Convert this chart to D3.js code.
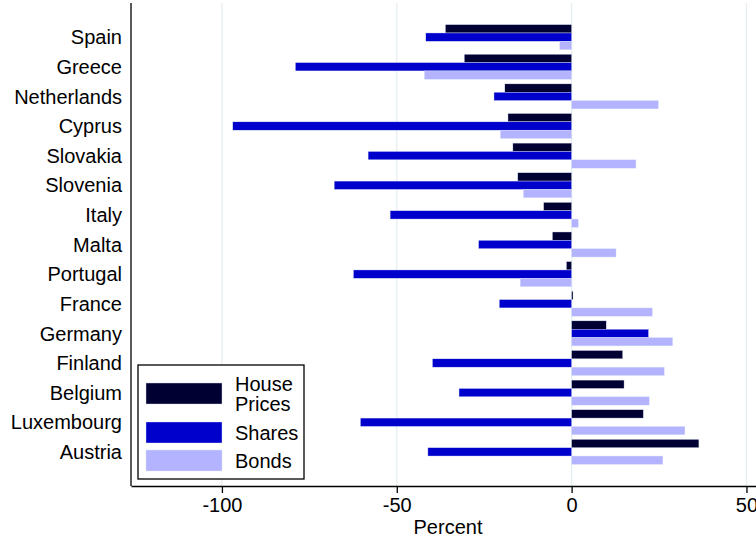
<!DOCTYPE html>
<html>
<head>
<meta charset="utf-8">
<script src="https://cdn.jsdelivr.net/npm/d3@7"></script>
<style>
  body { margin: 0; background: #fff; }
  svg { font-family: "Liberation Sans", Arial, sans-serif; display: block; }
</style>
</head>
<body>
<div id="chart"></div>
<script>
// data (percent change)
const countries = ["Spain", "Greece", "Netherlands", "Cyprus", "Slovakia", "Slovenia", "Italy", "Malta",
    "Portugal", "France", "Germany", "Finland", "Belgium", "Luxembourg", "Austria"];
const housePrices = [-36.1, -30.7, -19.1, -18.2, -16.8, -15.4, -8.0, -5.5, -1.5, 0.4, 9.9, 14.6, 15.0, 20.5, 36.4];
const shares = [-41.7, -79.0, -22.2, -96.9, -58.2, -67.9, -51.9, -26.6, -62.4, -20.7, 22.0, -39.8, -32.2, -60.4, -41.1];
const bonds = [-3.4, -42.1, 24.8, -20.4, 18.4, -13.8, 1.9, 12.7, -14.7, 23.1, 28.9, 26.5, 22.2, 32.4, 26.1];
const xTicks = [-100, -50, 0, 50];

const seriesNames = ["House\nPrices", "Shares", "Bonds"];
const seriesColors = ["#000033", "#0000cc", "#b3b3ff"];
const seriesValues = [housePrices, shares, bonds];

const width = 756, height = 542;
const plot = {left: 131, right: 765, top: 3, bottom: 486};

const svg = d3.select("#chart").append("svg")
    .attr("width", width)
    .attr("height", height);

const x = d3.scaleLinear().domain([-126, 55.3]).range([plot.left, plot.right]);

const y = d3.scaleBand()
    .domain(countries)
    .range([plot.top, plot.bottom])
    .paddingInner(0.155)
    .paddingOuter(0.73);

const ySub = d3.scaleBand()
    .domain(d3.range(seriesValues.length))
    .range([0, y.bandwidth()]);

// gridlines
svg.append("g")
    .selectAll("line")
    .data(xTicks)
    .join("line")
    .attr("x1", d => x(d)).attr("x2", d => x(d))
    .attr("y1", plot.top).attr("y2", plot.bottom)
    .attr("stroke", "#e6eef2")
    .attr("stroke-width", 1.3);

// bars
const rows = [];
countries.forEach((c, i) => {
    seriesValues.forEach((vals, s) => rows.push({country: c, s: s, v: vals[i]}));
});

svg.append("g")
    .selectAll("rect")
    .data(rows)
    .join("rect")
    .attr("x", d => x(Math.min(0, d.v)))
    .attr("width", d => Math.abs(x(d.v) - x(0)))
    .attr("y", d => y(d.country) + ySub(d.s))
    .attr("height", ySub.bandwidth())
    .attr("fill", d => seriesColors[d.s])
    .attr("stroke", "#dde3f5")
    .attr("stroke-width", 0.4);

// country labels
svg.append("g")
    .selectAll("text")
    .data(countries)
    .join("text")
    .attr("x", plot.left - 9)
    .attr("y", d => y(d) + y.bandwidth() / 2)
    .attr("dy", "0.36em")
    .attr("text-anchor", "end")
    .attr("font-size", 20)
    .text(d => d);

// y axis line
svg.append("line")
    .attr("x1", plot.left).attr("x2", plot.left)
    .attr("y1", plot.top).attr("y2", plot.bottom)
    .attr("stroke", "#000")
    .attr("stroke-width", 1.3);

// x axis (plain hyphen for negatives, as in the original)
const xAxis = svg.append("g")
    .attr("transform", `translate(0,${plot.bottom})`)
    .call(d3.axisBottom(x).tickValues(xTicks).tickSize(7).tickSizeOuter(0).tickPadding(5)
        .tickFormat(d => String(d)));
xAxis.select(".domain").attr("stroke-width", 1.3);
xAxis.selectAll(".tick line").attr("stroke-width", 1.3);
xAxis.selectAll("text")
    .attr("font-size", 20)
    .attr("font-family", "Liberation Sans, Arial, sans-serif")
    .attr("fill", "#000");

svg.append("text")
    .attr("x", (plot.left + plot.right) / 2)
    .attr("y", 534)
    .attr("text-anchor", "middle")
    .attr("font-size", 20)
    .text("Percent");

// legend
const legend = svg.append("g");
legend.append("rect")
    .attr("x", 138).attr("y", 365)
    .attr("width", 166).attr("height", 114)
    .attr("fill", "#fff")
    .attr("stroke", "#000")
    .attr("stroke-width", 1.3);

const legendY = [383, 422, 450];
seriesNames.forEach((name, i) => {
    legend.append("rect")
        .attr("x", 146).attr("y", legendY[i])
        .attr("width", 76).attr("height", 21)
        .attr("fill", seriesColors[i])
        .attr("stroke", "#dde3f5")
        .attr("stroke-width", 0.4);
    const lines = name.split("\n");
    const t = legend.append("text")
        .attr("x", 235)
        .attr("font-size", 20);
    const top = lines.length > 1 ? 390.5 : legendY[i] + 18;
    lines.forEach((ln, j) => {
        t.append("tspan")
            .attr("x", 235)
            .attr("y", top + j * 20)
            .text(ln);
    });
});
</script>
</body>
</html>
